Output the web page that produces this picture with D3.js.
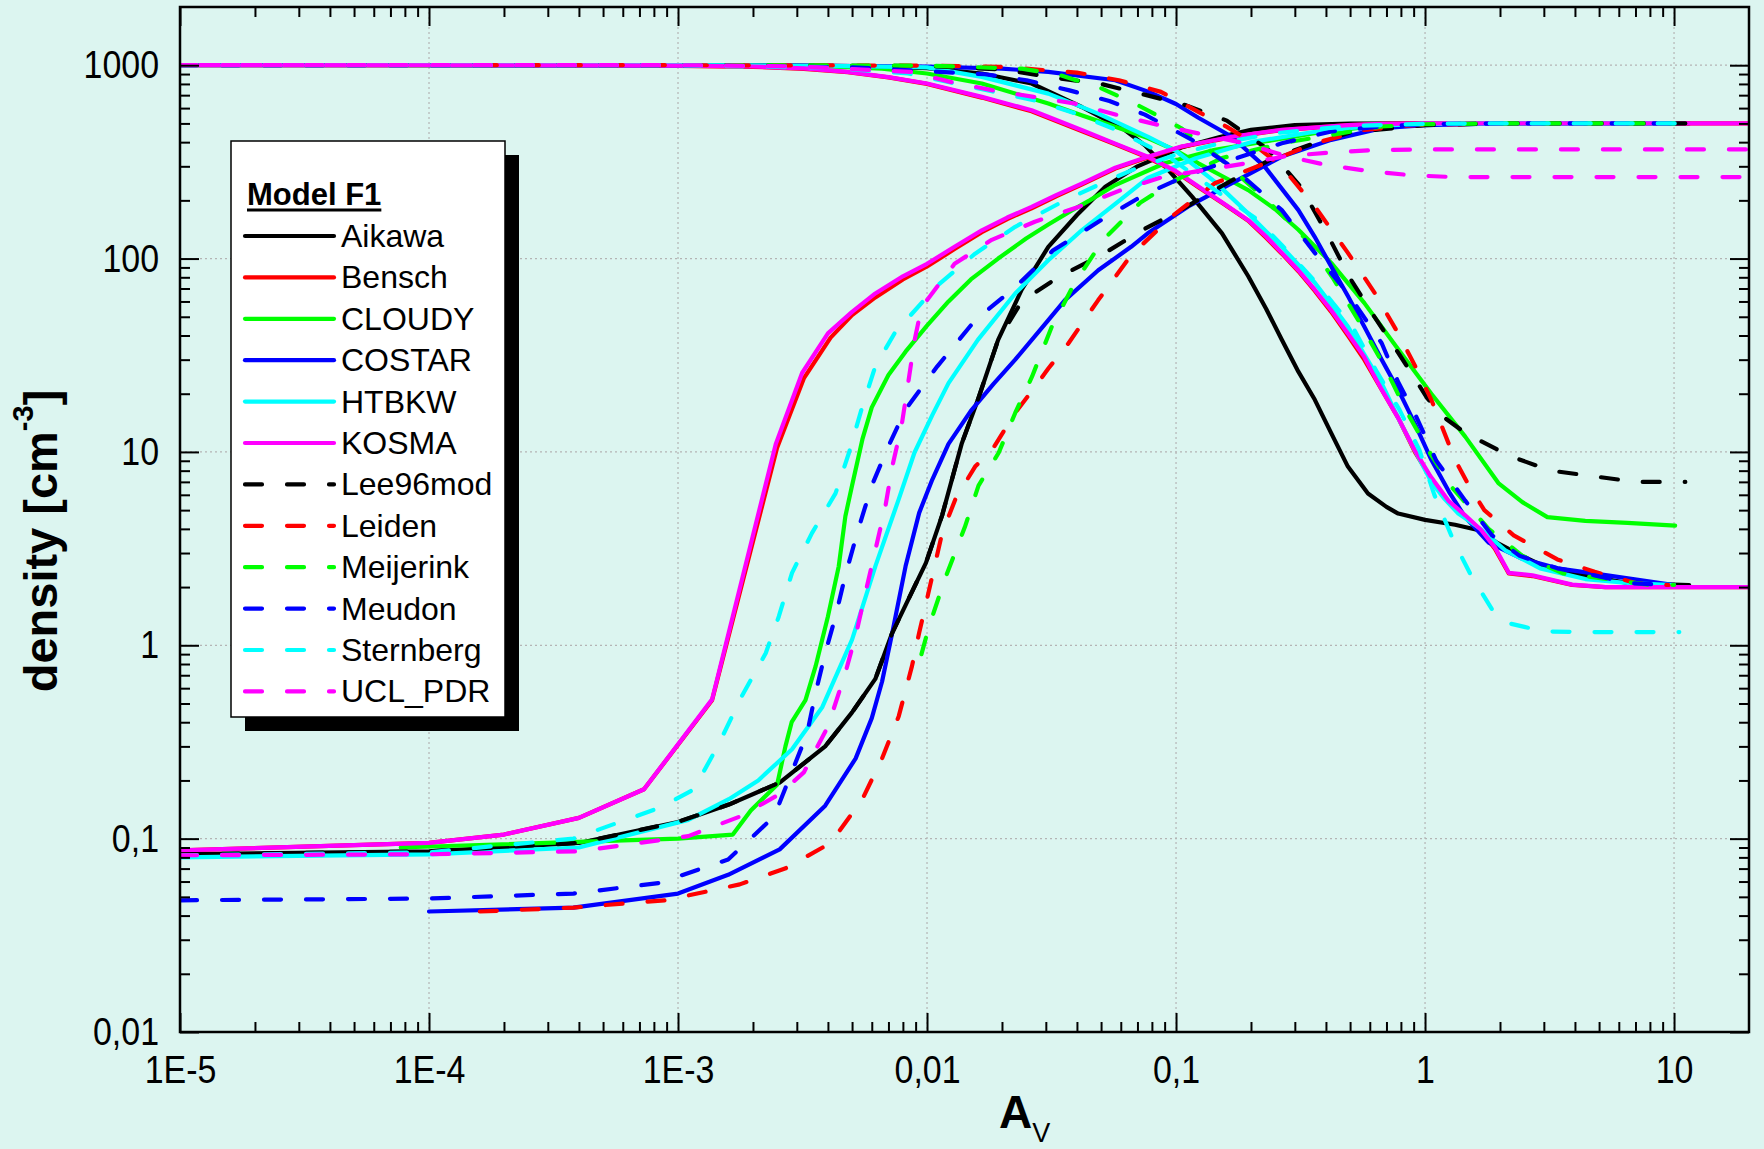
<!DOCTYPE html>
<html><head><meta charset="utf-8">
<script src="https://cdn.jsdelivr.net/npm/d3@7"></script>
<style>
html,body{margin:0;padding:0;background:#dcf5f0;}
svg{display:block;}
text{font-family:"Liberation Sans",Arial,sans-serif;}
</style></head><body>
<svg id="chart" width="1764" height="1149"></svg>
<script>
// ---------------- data ----------------
const xTicks = [1e-5, 1e-4, 1e-3, 0.01, 0.1, 1, 10];
const xTickLabels = ["1E-5", "1E-4", "1E-3", "0,01", "0,1", "1", "10"];
const yTicks = [0.01, 0.1, 1, 10, 100, 1000];
const yTickLabels = ["0,01", "0,1", "1", "10", "100", "1000"];

const modelNames = ["Aikawa","Bensch","CLOUDY","COSTAR","HTBKW","KOSMA","Lee96mod","Leiden","Meijerink","Meudon","Sternberg","UCL_PDR"];
const modelColors = ["#000000","#ff0000","#00ff00","#0000ff","#00ffff","#ff00ff","#000000","#ff0000","#00ff00","#0000ff","#00ffff","#ff00ff"];
const modelDashed = [false,false,false,false,false,false,true,true,true,true,true,true];

// [A_V, density] pairs, H (falling) and H2 (rising)
const aikawaH = [[1e-5,1000],[1e-3,1000],[3e-3,996],[5e-3,988],[0.01,965],[0.0166,906],[0.0263,804],[0.0418,608],[0.0625,461],[0.075,385],[0.093,288],[0.116,209],[0.153,135],[0.195,81],[0.23,55],[0.266,38],[0.31,26],[0.361,18.6],[0.42,12.5],[0.49,8.4],[0.59,6.1],[0.7,5.2],[0.78,4.8],[1.0,4.45],[1.32,4.2],[1.63,3.95],[1.94,3.4],[2.45,2.9],[3.2,2.47],[4.4,2.3],[6.5,2.1],[11.5,2.05]];
const aikawaH2 = [[1e-5,0.083],[1e-4,0.086],[4e-4,0.095],[1e-3,0.122],[1.6e-3,0.15],[2.56e-3,0.195],[3.9e-3,0.3],[5e-3,0.45],[6.2e-3,0.67],[7.25e-3,1.16],[9.9e-3,2.67],[0.0115,4.7],[0.0138,11.1],[0.016,18.6],[0.0193,38],[0.024,69],[0.0307,115],[0.04,168],[0.052,235],[0.07,300],[0.105,375],[0.15,425],[0.2,463],[0.3,490],[0.5,499],[1,500],[11.5,500]];

const benschH = [[1e-5,1000],[5e-4,998],[1e-3,993],[2e-3,981],[3.2e-3,958],[4.8e-3,920],[7e-3,865],[0.01,800],[0.0166,680],[0.0263,578],[0.042,455],[0.057,390],[0.077,333],[0.1,280],[0.123,234],[0.155,192],[0.195,157],[0.23,128],[0.266,106],[0.31,86],[0.361,68],[0.42,53],[0.49,40],[0.57,30],[0.67,21],[0.78,15],[0.91,10],[1.05,7.4],[1.24,5.5],[1.45,4.6],[1.68,3.9],[1.91,3.15],[2.17,2.35],[2.7,2.28],[3.9,2.05],[5.3,2.0],[20,2.0]];
const benschH2 = [[1e-5,0.087],[1e-4,0.095],[2e-4,0.105],[4e-4,0.128],[7.3e-4,0.18],[1.37e-3,0.52],[2.5e-3,10.5],[3.2e-3,24],[4.1e-3,39],[5e-3,51],[6.2e-3,63],[8e-3,78],[0.01,91],[0.0129,112],[0.0166,137],[0.021,160],[0.0263,182],[0.033,210],[0.042,242],[0.057,292],[0.077,333],[0.105,378],[0.17,426],[0.266,462],[0.49,490],[0.67,497],[1,500],[20,500]];

const cloudyH = [[7.7e-5,1000],[2e-3,1000],[4e-3,985],[6.6e-3,961],[0.01,906],[0.0166,804],[0.0307,634],[0.042,550],[0.057,480],[0.077,420],[0.1,362],[0.123,311],[0.155,265],[0.195,226],[0.25,180],[0.31,141],[0.42,95],[0.57,59],[0.78,34],[1.06,20],[1.45,12],[1.97,6.9],[2.46,5.5],[3.1,4.6],[4.4,4.4],[6.5,4.3],[10.1,4.16]];
const cloudyH2 = [[7.7e-5,0.09],[1e-3,0.1],[1.66e-3,0.105],[1.96e-3,0.14],[2.5e-3,0.19],[2.7e-3,0.3],[2.86e-3,0.4],[3.25e-3,0.52],[3.57e-3,0.78],[4.0e-3,1.41],[4.42e-3,2.56],[4.7e-3,4.65],[5.0e-3,6.7],[5.5e-3,11.6],[6.0e-3,17],[7.0e-3,25],[8.2e-3,33],[0.01,45],[0.0122,60],[0.015,78],[0.0193,100],[0.025,127],[0.0307,150],[0.038,177],[0.045,200],[0.057,240],[0.09,311],[0.143,365],[0.228,403],[0.36,445],[0.67,490],[1,497],[2,500],[10.1,500]];

const costarH = [[1e-4,1000],[3e-3,995],[0.01,985],[0.02,960],[0.0307,924],[0.057,836],[0.0773,730],[0.1,630],[0.123,535],[0.167,428],[0.227,299],[0.31,178],[0.36,130],[0.42,91],[0.49,64],[0.57,44.5],[0.67,30],[0.78,21],[0.91,14],[1.06,9.1],[1.25,6.2],[1.45,4.6],[1.8,3.4],[2.46,2.8],[3.4,2.5],[5.4,2.3],[10,2.05]];
const costarH2 = [[1e-4,0.042],[3.8e-4,0.044],[1e-3,0.052],[1.59e-3,0.065],[2.56e-3,0.088],[3.9e-3,0.148],[5.17e-3,0.26],[6.0e-3,0.42],[6.6e-3,0.65],[7.25e-3,1.16],[8.2e-3,2.56],[9.3e-3,4.84],[0.0105,7.2],[0.0122,11],[0.015,16.3],[0.0185,22.5],[0.0226,30],[0.0307,48],[0.0358,61],[0.0487,87],[0.066,115],[0.077,135],[0.112,186],[0.167,245],[0.266,337],[0.42,411],[0.67,472],[1,490],[2,500],[10,500]];

const htbkwH = [[1e-5,1000],[1e-3,1000],[5e-3,990],[0.01,975],[0.0166,870],[0.0307,713],[0.0487,562],[0.0773,426],[0.1,360],[0.143,250],[0.195,171],[0.23,138],[0.266,115],[0.31,93],[0.361,75],[0.42,58],[0.49,44.5],[0.57,32],[0.67,22.6],[0.78,15],[0.91,10.2],[1.06,7.0],[1.2,5.7],[1.36,4.8],[1.67,4.0],[2.1,3.1],[2.9,2.5],[4.4,2.2],[6.5,2.1],[10,2.05]];
const htbkwH2 = [[1e-5,0.08],[1e-4,0.083],[4e-4,0.09],[1.1e-3,0.125],[1.6e-3,0.16],[2.1e-3,0.2],[2.87e-3,0.29],[3.8e-3,0.48],[5.0e-3,1.07],[6.2e-3,2.56],[7.7e-3,5.7],[8.9e-3,9.9],[0.0105,15.5],[0.0122,22.7],[0.016,38],[0.0226,66],[0.0307,98],[0.0418,140],[0.057,192],[0.0773,262],[0.12,330],[0.2,400],[0.35,450],[0.6,485],[1,497],[2,500],[10,500]];

const kosmaH = [[1e-5,1000],[5e-4,999],[1e-3,995],[2e-3,985],[3.2e-3,962],[4.8e-3,924],[7e-3,868],[0.01,804],[0.0166,686],[0.0263,585],[0.042,461],[0.057,393],[0.077,336],[0.1,283],[0.123,236],[0.155,193],[0.195,158],[0.23,130],[0.266,107],[0.31,87],[0.361,69],[0.42,54],[0.49,41],[0.57,31],[0.67,21],[0.78,15],[0.91,10.2],[1.05,7.5],[1.24,5.6],[1.45,4.7],[1.68,3.95],[1.91,3.2],[2.17,2.37],[2.7,2.3],[3.9,2.06],[5.3,2.0],[20,2.0]];
const kosmaH2 = [[1e-5,0.087],[1e-4,0.095],[2e-4,0.105],[4e-4,0.128],[7.3e-4,0.18],[1.37e-3,0.525],[2.47e-3,11],[3.15e-3,25.6],[4.0e-3,41],[5e-3,53],[6.2e-3,66],[8e-3,81],[0.01,94],[0.0129,115],[0.0166,140],[0.021,163],[0.0263,185],[0.033,213],[0.042,245],[0.057,295],[0.077,336],[0.105,380],[0.17,428],[0.266,463],[0.49,490],[0.67,497],[1,500],[20,500]];

const lee96H = [[1e-5,1000],[1e-3,1000],[0.01,990],[0.02,950],[0.033,860],[0.05,800],[0.073,710],[0.11,620],[0.16,517],[0.235,365],[0.316,236],[0.4,138],[0.5,79],[0.62,51],[0.79,31.8],[1.02,19],[1.2,15],[1.47,12.4],[2.2,9.5],[3.2,8.0],[4.7,7.5],[7.0,7.0],[11.1,7.0]];
const lee96H2 = [[1e-5,0.083],[1e-4,0.086],[4e-4,0.095],[1e-3,0.122],[1.6e-3,0.15],[2.56e-3,0.195],[3.9e-3,0.3],[5e-3,0.45],[6.2e-3,0.67],[7.25e-3,1.16],[9.9e-3,2.67],[0.0115,4.7],[0.0138,11.1],[0.016,18.6],[0.0193,38],[0.024,60],[0.0336,80],[0.05,104],[0.073,140],[0.11,185],[0.155,240],[0.25,335],[0.35,390],[0.5,449],[1,490],[2,500],[11.1,500]];

const leidenH = [[1.6e-4,1000],[1e-3,1000],[0.01,995],[0.02,980],[0.04,916],[0.059,836],[0.087,728],[0.124,570],[0.16,480],[0.195,411],[0.266,299],[0.361,186],[0.49,107],[0.63,66],[0.78,41],[0.91,28],[1.06,18.6],[1.32,9.1],[1.5,6.7],[1.73,5.0],[2.27,3.7],[3.4,2.78],[4.8,2.4],[7.0,2.1],[9.5,2.05]];
const leidenH2 = [[1.6e-4,0.042],[3.8e-4,0.044],[8.9e-4,0.048],[1.77e-3,0.058],[2.69e-3,0.07],[4.1e-3,0.095],[5.5e-3,0.16],[6.6e-3,0.26],[7.7e-3,0.43],[8.7e-3,0.78],[9.3e-3,1.16],[0.0102,1.94],[0.0115,3.8],[0.013,5.7],[0.0156,8.4],[0.0183,10.3],[0.0226,15.9],[0.0272,21.8],[0.0307,27],[0.037,36.5],[0.0487,61],[0.066,104],[0.096,165],[0.143,245],[0.228,311],[0.361,395],[0.57,463],[0.91,490],[2,500],[9.5,500]];

const meijerinkH = [[1e-5,1000],[1e-3,1000],[0.01,995],[0.024,960],[0.034,890],[0.0494,766],[0.07,623],[0.105,472],[0.15,330],[0.235,197],[0.335,125],[0.43,78],[0.55,46],[0.69,27.5],[0.83,16.8],[1.03,10.2],[1.29,6.5],[1.8,4.0],[2.46,2.9],[3.6,2.35],[5.4,2.2],[8,2.05],[10,2.05]];
const meijerinkH2 = [[0.0095,0.9],[0.0102,1.26],[0.0118,2.2],[0.0142,4.1],[0.0161,6.7],[0.0194,9.9],[0.0226,15.9],[0.0264,24.5],[0.0316,44],[0.039,74],[0.051,125],[0.072,195],[0.1,255],[0.153,331],[0.266,395],[0.67,482],[1,495],[2,500],[10,500]];

const meudonH = [[1e-5,1000],[1e-3,1000],[5e-3,975],[0.0171,898],[0.0251,836],[0.037,743],[0.054,653],[0.075,555],[0.116,411],[0.167,299],[0.266,178],[0.361,107],[0.49,66],[0.67,36.5],[0.78,23],[0.92,15.3],[1.11,9.0],[1.45,5.6],[1.86,3.7],[2.4,2.9],[3.4,2.5],[4.8,2.3],[6.5,2.1],[9.8,2.05]];
const meudonH2 = [[1e-5,0.048],[1e-4,0.049],[3.8e-4,0.052],[8.4e-4,0.059],[1.59e-3,0.078],[2.43e-3,0.13],[3.3e-3,0.35],[3.57e-3,0.57],[3.9e-3,0.91],[4.29e-3,1.41],[4.7e-3,2.3],[5.3e-3,4.0],[6.0e-3,6.7],[7.0e-3,10.7],[8.2e-3,16.6],[0.011,27.7],[0.0156,48],[0.0226,71],[0.032,110],[0.05,158],[0.075,215],[0.112,271],[0.167,324],[0.266,395],[0.42,454],[0.67,482],[1,495],[2,500],[9.8,500]];

const sternbergH = [[1e-5,1000],[1e-3,1000],[4e-3,970],[8.4e-3,906],[0.0268,659],[0.039,566],[0.058,461],[0.093,337],[0.164,200],[0.211,160],[0.265,118],[0.373,73],[0.516,43.6],[0.64,26],[0.79,16.5],[0.95,10.2],[1.09,6.0],[1.31,3.4],[1.53,2.3],[1.86,1.53],[2.17,1.3],[3.0,1.18],[4.4,1.17],[10.5,1.17]];
const sternbergH2 = [[1e-5,0.082],[1e-4,0.085],[3.8e-4,0.1],[8.5e-4,0.145],[1.16e-3,0.18],[1.46e-3,0.31],[1.81e-3,0.55],[2.25e-3,0.91],[2.54e-3,1.41],[2.87e-3,2.37],[3.45e-3,3.8],[4.29e-3,6.1],[4.86e-3,9.9],[5.5e-3,17.2],[6.2e-3,27.7],[7.4e-3,41],[0.0108,71],[0.0156,106],[0.0226,146],[0.0358,200],[0.0535,254],[0.068,290],[0.1,345],[0.15,395],[0.25,445],[0.5,485],[1,498],[2,500],[10.5,500]];

const uclH = [[1e-5,1000],[1e-3,1000],[3e-3,985],[8.6e-3,924],[0.0124,820],[0.0182,743],[0.0268,686],[0.039,634],[0.058,553],[0.085,491],[0.131,436],[0.19,394],[0.274,340],[0.4,305],[0.6,283],[0.87,270],[1.28,264],[20,264]];
const uclH2 = [[1e-5,0.082],[1e-4,0.083],[4e-4,0.086],[1.1e-3,0.103],[1.77e-3,0.13],[2.56e-3,0.17],[3.2e-3,0.22],[4.0e-3,0.38],[4.7e-3,0.72],[5.2e-3,1.16],[5.66e-3,1.87],[6.2e-3,3.1],[6.8e-3,5.2],[7.25e-3,8.4],[7.9e-3,13.6],[8.4e-3,22.7],[8.9e-3,37.4],[9.5e-3,56],[0.0101,62],[0.0129,94],[0.0182,125],[0.0271,155],[0.0405,185],[0.059,224],[0.089,265],[0.186,309],[0.278,339],[0.4,352],[0.6,363],[0.87,366],[1.2,367],[20,367]];

const modelH = [aikawaH, benschH, cloudyH, costarH, htbkwH, kosmaH, lee96H, leidenH, meijerinkH, meudonH, sternbergH, uclH];
const modelH2 = [aikawaH2, benschH2, cloudyH2, costarH2, htbkwH2, kosmaH2, lee96H2, leidenH2, meijerinkH2, meudonH2, sternbergH2, uclH2];

// ---------------- drawing ----------------
const W = 1764, H = 1149;
const L = 180, R = 1749, T = 7, B = 1032;
const svg = d3.select("#chart");
svg.append("rect").attr("width", W).attr("height", H).attr("fill", "#dcf5f0");

const x = d3.scaleLog().domain([1e-5, 20]).range([L, R]);
const y = d3.scaleLog().domain([0.01, 2000]).range([B, T]);

const xMinor = [], yMinor = [];
for (let k = -5; k <= 1; k++) for (let m = 2; m <= 9; m++) { const v = m * Math.pow(10, k); if (v < 20) xMinor.push(v); }
for (let k = -2; k <= 3; k++) for (let m = 2; m <= 9; m++) { const v = m * Math.pow(10, k); if (v < 2000) yMinor.push(v); }

// grid
const grid = svg.append("g").attr("stroke", "#b4b4b4").attr("stroke-width", 1.2).attr("stroke-dasharray", "2,3");
xTicks.slice(1).forEach(v => grid.append("line").attr("x1", x(v)).attr("x2", x(v)).attr("y1", T).attr("y2", B));
yTicks.slice(1).forEach(v => grid.append("line").attr("y1", y(v)).attr("y2", y(v)).attr("x1", L).attr("x2", R));

// curves
svg.append("clipPath").attr("id", "clip").append("rect").attr("x", L).attr("y", T).attr("width", R - L).attr("height", B - T);
const line = d3.line().x(d => x(d[0])).y(d => y(d[1])).curve(d3.curveLinear);
const plot = svg.append("g").attr("clip-path", "url(#clip)");
modelNames.forEach((name, i) => {
  [modelH[i], modelH2[i]].forEach(data => {
    plot.append("path").datum(data).attr("d", line)
      .attr("fill", "none").attr("stroke", modelColors[i]).attr("stroke-width", 4.2)
      .attr("stroke-linecap", "round").attr("stroke-linejoin", "round")
      .attr("stroke-dasharray", modelDashed[i] ? "17,25" : null);
  });
});

// axes
const SX = 0.87;
function styleAxis(g) {
  g.select(".domain").remove();
  g.selectAll(".tick line").attr("stroke", "#000").attr("stroke-width", 2);
  g.selectAll("text").attr("fill", "#000").attr("font-size", 39)
    .attr("font-family", "Liberation Sans, Arial, sans-serif");
}
const fmtX = d => xTickLabels[xTicks.indexOf(d)];
const fmtY = d => yTickLabels[yTicks.indexOf(d)];
svg.append("g").attr("transform", `translate(0,${B})`)
  .call(d3.axisBottom(x).tickValues(xTicks).tickFormat(fmtX).tickSizeInner(-19).tickSizeOuter(0).tickPadding(23)).call(styleAxis)
  .call(g => g.selectAll("text").attr("transform", `scale(${SX},1)`));
svg.append("g").attr("transform", `translate(0,${B})`)
  .call(d3.axisBottom(x).tickValues(xMinor).tickFormat("").tickSizeInner(-10).tickSizeOuter(0)).call(styleAxis);
svg.append("g").attr("transform", `translate(0,${T})`)
  .call(d3.axisTop(x).tickValues(xTicks).tickFormat("").tickSizeInner(-19).tickSizeOuter(0)).call(styleAxis);
svg.append("g").attr("transform", `translate(0,${T})`)
  .call(d3.axisTop(x).tickValues(xMinor).tickFormat("").tickSizeInner(-10).tickSizeOuter(0)).call(styleAxis);
svg.append("g").attr("transform", `translate(${L},0)`)
  .call(d3.axisLeft(y).tickValues(yTicks).tickFormat(fmtY).tickSizeInner(-19).tickSizeOuter(0).tickPadding(21)).call(styleAxis)
  .call(g => g.selectAll("text").attr("x", -21 / SX).attr("transform", `scale(${SX},1)`));
svg.append("g").attr("transform", `translate(${L},0)`)
  .call(d3.axisLeft(y).tickValues(yMinor).tickFormat("").tickSizeInner(-10).tickSizeOuter(0)).call(styleAxis);
svg.append("g").attr("transform", `translate(${R},0)`)
  .call(d3.axisRight(y).tickValues(yTicks).tickFormat("").tickSizeInner(-19).tickSizeOuter(0)).call(styleAxis);
svg.append("g").attr("transform", `translate(${R},0)`)
  .call(d3.axisRight(y).tickValues(yMinor).tickFormat("").tickSizeInner(-10).tickSizeOuter(0)).call(styleAxis);

// frame
svg.append("rect").attr("x", L).attr("y", T).attr("width", R - L).attr("height", B - T)
  .attr("fill", "none").attr("stroke", "#000").attr("stroke-width", 2.5);

// axis titles
const yt = svg.append("text").attr("transform", "translate(40,541) rotate(-90)")
  .attr("text-anchor", "middle").attr("dominant-baseline", "central")
  .attr("font-weight", "bold").attr("font-size", 47).attr("fill", "#000");
yt.append("tspan").text("density [cm");
yt.append("tspan").attr("font-size", 29).attr("dy", -17).text("-3");
yt.append("tspan").attr("dy", 17).text("]");

const xt = svg.append("text").attr("x", 999).attr("y", 1128).attr("font-weight", "bold").attr("font-size", 46).attr("fill", "#000");
xt.append("tspan").text("A");
xt.append("tspan").attr("font-size", 27).attr("dy", 14).attr("font-weight", "normal").text("V");

// legend
const lg = svg.append("g");
const lx = 231, ly = 141, lw = 274, lh = 576;
lg.append("rect").attr("x", lx + 14).attr("y", ly + 14).attr("width", lw).attr("height", lh).attr("fill", "#000");
lg.append("rect").attr("x", lx).attr("y", ly).attr("width", lw).attr("height", lh).attr("fill", "#fff").attr("stroke", "#000").attr("stroke-width", 1.5);
const title = lg.append("text").attr("x", 247).attr("y", 205).attr("font-weight", "bold").attr("font-size", 31).attr("fill", "#000").text("Model F1");
const tw = title.node().getComputedTextLength();
lg.append("line").attr("x1", 247).attr("x2", 247 + tw).attr("y1", 210).attr("y2", 210).attr("stroke", "#000").attr("stroke-width", 3);
modelNames.forEach((name, i) => {
  const cy = 236 + 41.4 * i;
  lg.append("line").attr("x1", 245).attr("x2", 334).attr("y1", cy).attr("y2", cy)
    .attr("stroke", modelColors[i]).attr("stroke-width", 4.2).attr("stroke-linecap", "round")
    .attr("stroke-dasharray", modelDashed[i] ? "17,25" : null);
  lg.append("text").attr("x", 341).attr("y", cy).attr("dominant-baseline", "central")
    .attr("font-size", 32).attr("fill", "#000").text(name);
});
</script>
</body></html>
